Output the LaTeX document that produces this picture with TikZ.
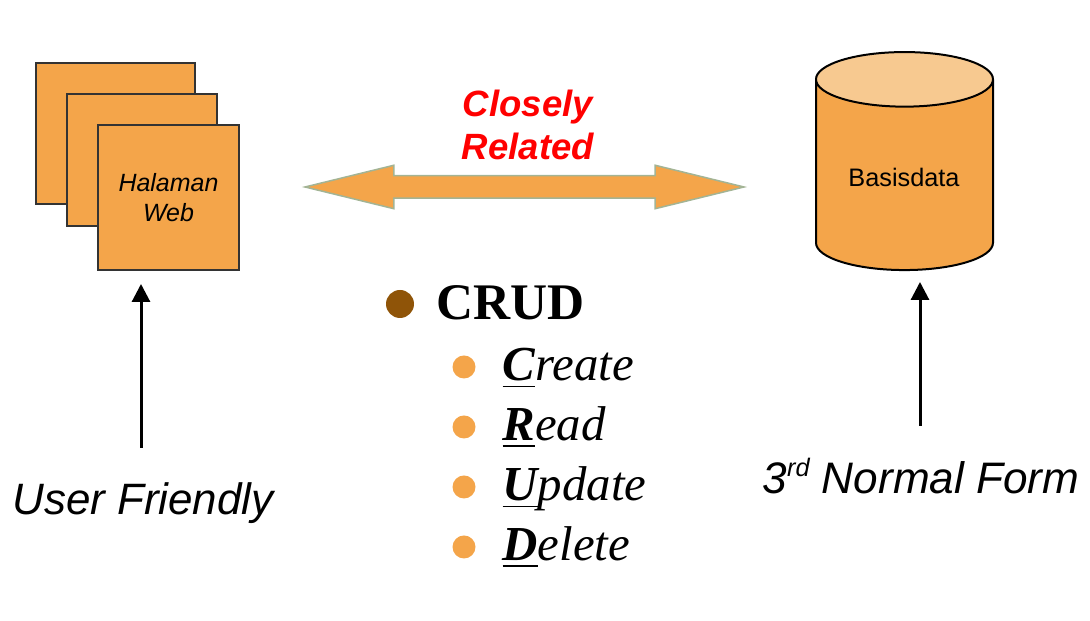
\documentclass[tikz,border=0pt]{standalone}
\usepackage{fontspec}
\setmainfont{Liberation Serif}
\setsansfont{Liberation Sans}
\usetikzlibrary{arrows.meta, shapes.geometric, shapes.arrows}

\definecolor{pagefill}{HTML}{F4A54A}
\definecolor{lidfill}{HTML}{F7C990}
\definecolor{crudbrown}{HTML}{8F5408}
\definecolor{edgegreen}{HTML}{A3B495}

\tikzstyle{page} = [rectangle, draw = black!80, line width = 0.25mm, fill = pagefill, outer sep = 0pt]
\tikzstyle{note} = [inner sep = 0pt, align = center, font = \sffamily\itshape\fontsize{12.5}{15}\selectfont]
\tikzstyle{item} = [anchor = base west, inner sep = 0pt, font = \rmfamily\itshape\fontsize{13.9}{16}\selectfont]
\tikzstyle{dot}  = [circle, inner sep = 0pt, minimum size = 2.3mm, fill = pagefill]
\tikzstyle{up}   = [line width = 0.3mm, -{Triangle[length = 1.8mm, width = 1.8mm]}]

\newcommand{\firstletter}[1]{\underline{\textbf{#1}}}

\begin{document}
\begin{tikzpicture}
        \useasboundingbox (0, 0) rectangle (10.9, 6.21);

        % Stacked pages
        \node[page, minimum width = 15.9mm, minimum height = 14.1mm] (backpage) at (1.155, 4.875) {};
        \node[page, minimum width = 15.0mm, minimum height = 13.2mm] (midpage)  at (1.42, 4.61) {};
        \node[page, minimum width = 14.1mm, minimum height = 14.5mm, align = center,
              font = \sffamily\itshape\fontsize{7.1}{8.5}\selectfont] (frontpage) at (1.685, 4.235) {Halaman\\Web};

        % Database
        \node[cylinder, shape border rotate = 90, draw = black, line width = 0.2mm, outer sep = 0pt,
              aspect = 2.33, minimum width = 17.7mm, minimum height = 21.8mm,
              cylinder uses custom fill, cylinder body fill = pagefill, cylinder end fill = lidfill] (database) at (9.045, 4.39) {};
        \node[font = \sffamily\fontsize{7.2}{8}\selectfont, inner sep = 0pt] (dblabel) at (9.04, 4.44) {Basisdata};

        % Middle
        \node[double arrow, draw = edgegreen, fill = pagefill, line width = 0.15mm, inner sep = 1.05mm,
              minimum height = 43.9mm, minimum width = 4.2mm, double arrow head extend = 1.05mm,
              double arrow tip angle = 27.5] (link) at (5.245, 4.34) {};
        \node[inner sep = 0pt, align = center, text = red,
              font = \sffamily\bfseries\itshape\fontsize{10.4}{12.2}\selectfont] (related) at (5.28, 4.96) {Closely\\Related};

        % CRUD list
        \node[dot, minimum size = 2.8mm, fill = crudbrown] (crudbullet) at (4.00, 3.17) {};
        \node[anchor = base west, inner sep = 0pt, font = \rmfamily\bfseries\fontsize{14.6}{16}\selectfont] (crud) at (4.36, 3.01) {CRUD};
        \node[dot] (createdot) at (4.64, 2.54) {};
        \node[dot] (readdot)   at (4.64, 1.94) {};
        \node[dot] (updatedot) at (4.64, 1.34) {};
        \node[dot] (deletedot) at (4.64, 0.74) {};
        \node[item] (create) at (5.02, 2.40) {\firstletter{C}reate};
        \node[item] (read)   at (5.02, 1.80) {\firstletter{R}ead};
        \node[item] (update) at (5.02, 1.20) {\firstletter{U}pdate};
        \node[item] (delete) at (5.02, 0.60) {\firstletter{D}elete};

        % Bottom notes and their arrows
        \node[note] (friendly) at (1.43, 1.18) {User Friendly};
        \node[note, font = \sffamily\itshape\fontsize{12.55}{15}\selectfont] (form) at (9.21, 1.45) {3\raisebox{0.75ex}{\fontsize{7.2}{8}\selectfont rd} Normal Form};
        \coordinate (friendlystart) at (1.41, 1.73);
        \coordinate (friendlyend)   at (1.41, 3.37);
        \coordinate (formstart)     at (9.20, 1.95);
        \coordinate (formend)       at (9.20, 3.39);
        \draw[up] (friendlystart) -- (friendlyend);
        \draw[up] (formstart) -- (formend);
      \end{tikzpicture}
\end{document}
